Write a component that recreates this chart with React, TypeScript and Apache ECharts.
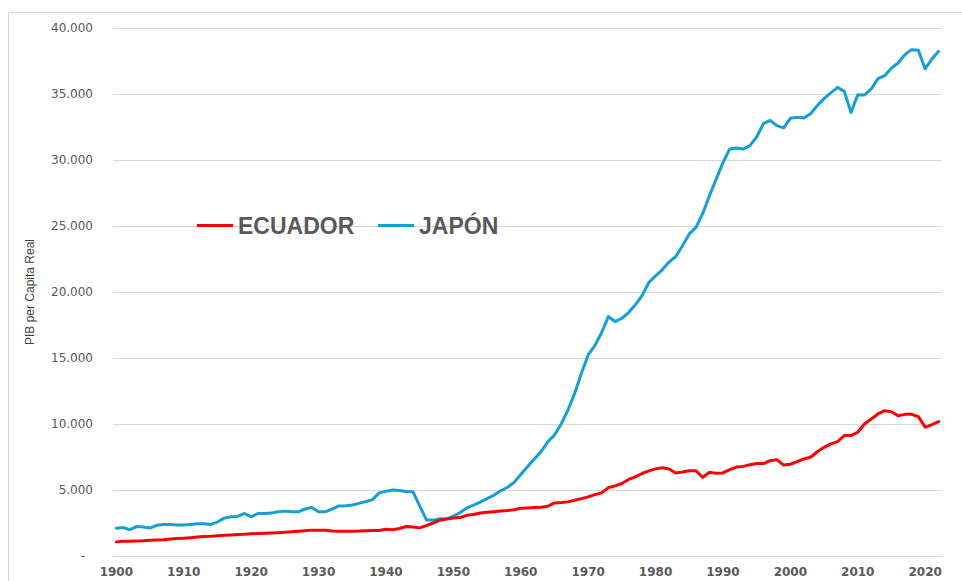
import React, { useEffect, useRef } from "react";
import * as echarts from "echarts";

const years: string[] = Array.from({ length: 123 }, (_, i) => String(1900 + i));

const ecuador: number[] = [
  1070, 1110, 1120, 1130, 1150, 1190, 1220, 1240, 1280, 1320,
  1350, 1390, 1440, 1480, 1500, 1540, 1570, 1600, 1620, 1650,
  1680, 1710, 1730, 1750, 1770, 1800, 1830, 1870, 1920, 1960,
  1960, 1950, 1900, 1880, 1880, 1880, 1890, 1920, 1930, 1930,
  2030, 1990, 2080, 2230, 2190, 2130, 2300, 2500, 2710, 2810,
  2880, 2910, 3080, 3140, 3260, 3310, 3360, 3410, 3440, 3510,
  3620, 3640, 3670, 3700, 3770, 4020, 4050, 4100, 4220, 4350,
  4480, 4650, 4780, 5180, 5310, 5490, 5800, 6000, 6250, 6450,
  6600, 6680, 6590, 6290, 6360, 6460, 6460, 5960, 6340, 6260,
  6290, 6540, 6740, 6790, 6920, 7000, 7000, 7220, 7300, 6890,
  6950, 7150, 7350, 7480, 7900, 8230, 8490, 8660, 9120, 9120,
  9370, 10000, 10380, 10760, 11010, 10930, 10630, 10730, 10730, 10560,
  9750, 9950, 10180,
];

const japon: number[] = [
  2110, 2160, 1990, 2230, 2190, 2120, 2330, 2390, 2390, 2340,
  2340, 2390, 2440, 2440, 2390, 2570, 2870, 2970, 3000, 3220,
  2970, 3220, 3220, 3250, 3350, 3400, 3350, 3350, 3560, 3680,
  3350, 3350, 3560, 3790, 3810, 3860, 3990, 4120, 4270, 4780,
  4900, 5000, 4960, 4880, 4870, 3800, 2730, 2720, 2830, 2810,
  3010, 3290, 3640, 3850, 4080, 4350, 4600, 4940, 5190, 5570,
  6170, 6760, 7340, 7890, 8650, 9160, 10000, 11060, 12320, 13840,
  15230, 15940, 16930, 18140, 17760, 18010, 18440, 19030, 19730, 20720,
  21230, 21680, 22270, 22690, 23500, 24400, 24900, 25950, 27300, 28550,
  29800, 30830, 30910, 30830, 31090, 31740, 32750, 33000, 32600, 32430,
  33160, 33230, 33180, 33510, 34120, 34650, 35080, 35500, 35200, 33610,
  34950, 34930, 35380, 36160, 36390, 36970, 37350, 37980, 38360, 38310,
  36900, 37650, 38230,
];

const seriesNames = ["ECUADOR", "JAPÓN"];
const seriesColors = ["#FF0000", "#159FD7"];
const yAxisTitle = "PIB per Capita Real";

function fmt(v: number): string {
  if (v === 0) return "-  ";
  return v.toLocaleString("de-DE");
}

export default function App() {
  const ref = useRef<HTMLDivElement>(null);
  useEffect(() => {
    if (!ref.current) return;
    const chart = echarts.init(ref.current, null, { renderer: "svg" });
    const legendText = {
      fontFamily: "'Liberation Sans', Arial, sans-serif",
      fontWeight: "bold" as const,
      fontSize: 23,
      color: "#595959",
    };
    const legendBase = {
      top: 214,
      padding: 0,
      icon: "rect",
      itemWidth: 36,
      itemHeight: 3,
      itemGap: 5,
      textStyle: legendText,
    };
    chart.setOption({
      animation: false,
      backgroundColor: "#ffffff",
      graphic: [
        {
          type: "rect",
          shape: { x: 8.5, y: 12.5, width: 1000, height: 600 },
          style: { fill: "none", stroke: "#D9D9D9", lineWidth: 1 },
          silent: true,
        },
      ],
      grid: { left: 113, right: 20, top: 28, bottom: 25, containLabel: false },
      legend: [
        { ...legendBase, data: [seriesNames[0]], left: 197 },
        { ...legendBase, data: [seriesNames[1]], left: 378 },
      ],
      xAxis: {
        type: "category",
        data: years,
        boundaryGap: true,
        axisLine: { lineStyle: { color: "#D9D9D9", width: 1 } },
        axisTick: { show: false },
        axisLabel: {
          interval: 9,
          margin: 10,
          color: "#595959",
          fontFamily: "'DejaVu Sans', sans-serif",
          fontWeight: "bold",
          fontSize: 12,
        },
        splitLine: { show: false },
      },
      yAxis: {
        type: "value",
        min: 0,
        max: 40000,
        interval: 5000,
        name: yAxisTitle,
        nameLocation: "middle",
        nameGap: 77,
        nameTextStyle: {
          fontFamily: "'Liberation Sans', Arial, sans-serif",
          fontSize: 12,
          color: "#404040",
        },
        axisLine: { show: false },
        axisTick: { show: false },
        axisLabel: {
          margin: 20,
          color: "#595959",
          fontFamily: "'DejaVu Sans', sans-serif",
          fontSize: 12,
          formatter: (v: number) => fmt(v),
        },
        splitLine: { lineStyle: { color: "#D9D9D9", width: 1 } },
      },
      series: [
        {
          name: seriesNames[0],
          type: "line",
          data: ecuador,
          symbol: "none",
          color: seriesColors[0],
          lineStyle: { width: 3, color: seriesColors[0], cap: "round", join: "round" },
          z: 3,
        },
        {
          name: seriesNames[1],
          type: "line",
          data: japon,
          symbol: "none",
          color: seriesColors[1],
          lineStyle: { width: 3, color: seriesColors[1], cap: "round", join: "round" },
          z: 2,
        },
      ],
    });
    return () => chart.dispose();
  }, []);
  return (
    <div
      ref={ref}
      style={{ position: "fixed", left: 0, top: 0, width: 962, height: 581 }}
    />
  );
}
